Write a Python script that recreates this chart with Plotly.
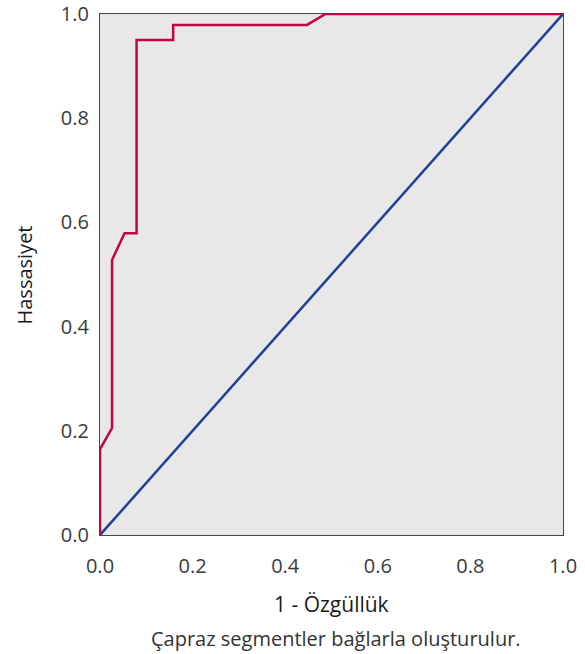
import plotly.graph_objects as go

roc_x = [0.0, 0.0, 0.026, 0.026, 0.053, 0.079, 0.079, 0.158, 0.158, 0.447, 0.487, 1.0]
roc_y = [0.0, 0.165, 0.205, 0.528, 0.579, 0.579, 0.950, 0.950, 0.979, 0.979, 1.0, 1.0]
ref_x = [0.0, 1.0]
ref_y = [0.0, 1.0]
tick_vals = [0.0, 0.2, 0.4, 0.6, 0.8, 1.0]
tick_text = ["0.0", "0.2", "0.4", "0.6", "0.8", "1.0"]

fig = go.Figure()
fig.add_trace(go.Scatter(x=ref_x, y=ref_y, mode="lines",
                         line=dict(color="#1f3f9a", width=2.5), hoverinfo="skip"))
fig.add_trace(go.Scatter(x=roc_x, y=roc_y, mode="lines",
                         line=dict(color="#c0063f", width=2.5), hoverinfo="skip"))

fam = "Open Sans, Noto Sans, sans-serif"
tfont = dict(family=fam, size=20, color="#3a3a3a")
axis_common = dict(range=[0, 1], tickvals=tick_vals, ticktext=tick_text,
                   showgrid=False, zeroline=False, showline=True, linecolor="#444444",
                   linewidth=1.2, mirror=True, ticks="", tickfont=tfont, automargin=False,
                   ticklabeloverflow="allow")

fig.update_layout(
    width=585, height=654,
    margin=dict(l=100, r=22, t=14, b=119),
    plot_bgcolor="#e8e8e8", paper_bgcolor="white",
    showlegend=False,
    font=dict(family=fam, size=20, color="#222222"),
    xaxis=dict(**axis_common, ticklabelstandoff=13),
    yaxis=dict(**axis_common, ticklabelstandoff=6),
    annotations=[
        dict(text="1 - Özgüllük", xref="paper", yref="paper",
             x=0.5, y=-0.1324, xanchor="center", yanchor="middle", showarrow=False,
             font=dict(family=fam, size=21, color="#1a1a1a")),
        dict(text="Hassasiyet", xref="paper", yref="paper", textangle=-90,
             x=-0.162, y=0.5, xanchor="center", yanchor="middle", showarrow=False,
             font=dict(family=fam, size=20, color="#1a1a1a")),
        dict(text="Çapraz segmentler bağlarla oluşturulur.", xref="paper", yref="paper",
             x=0.51, y=-0.1977, xanchor="center", yanchor="middle", showarrow=False,
             font=dict(family=fam, size=20, color="#333333")),
    ],
)
fig.write_html("out.html", config={"displayModeBar": False},
               post_script="document.body.style.margin='0';")
